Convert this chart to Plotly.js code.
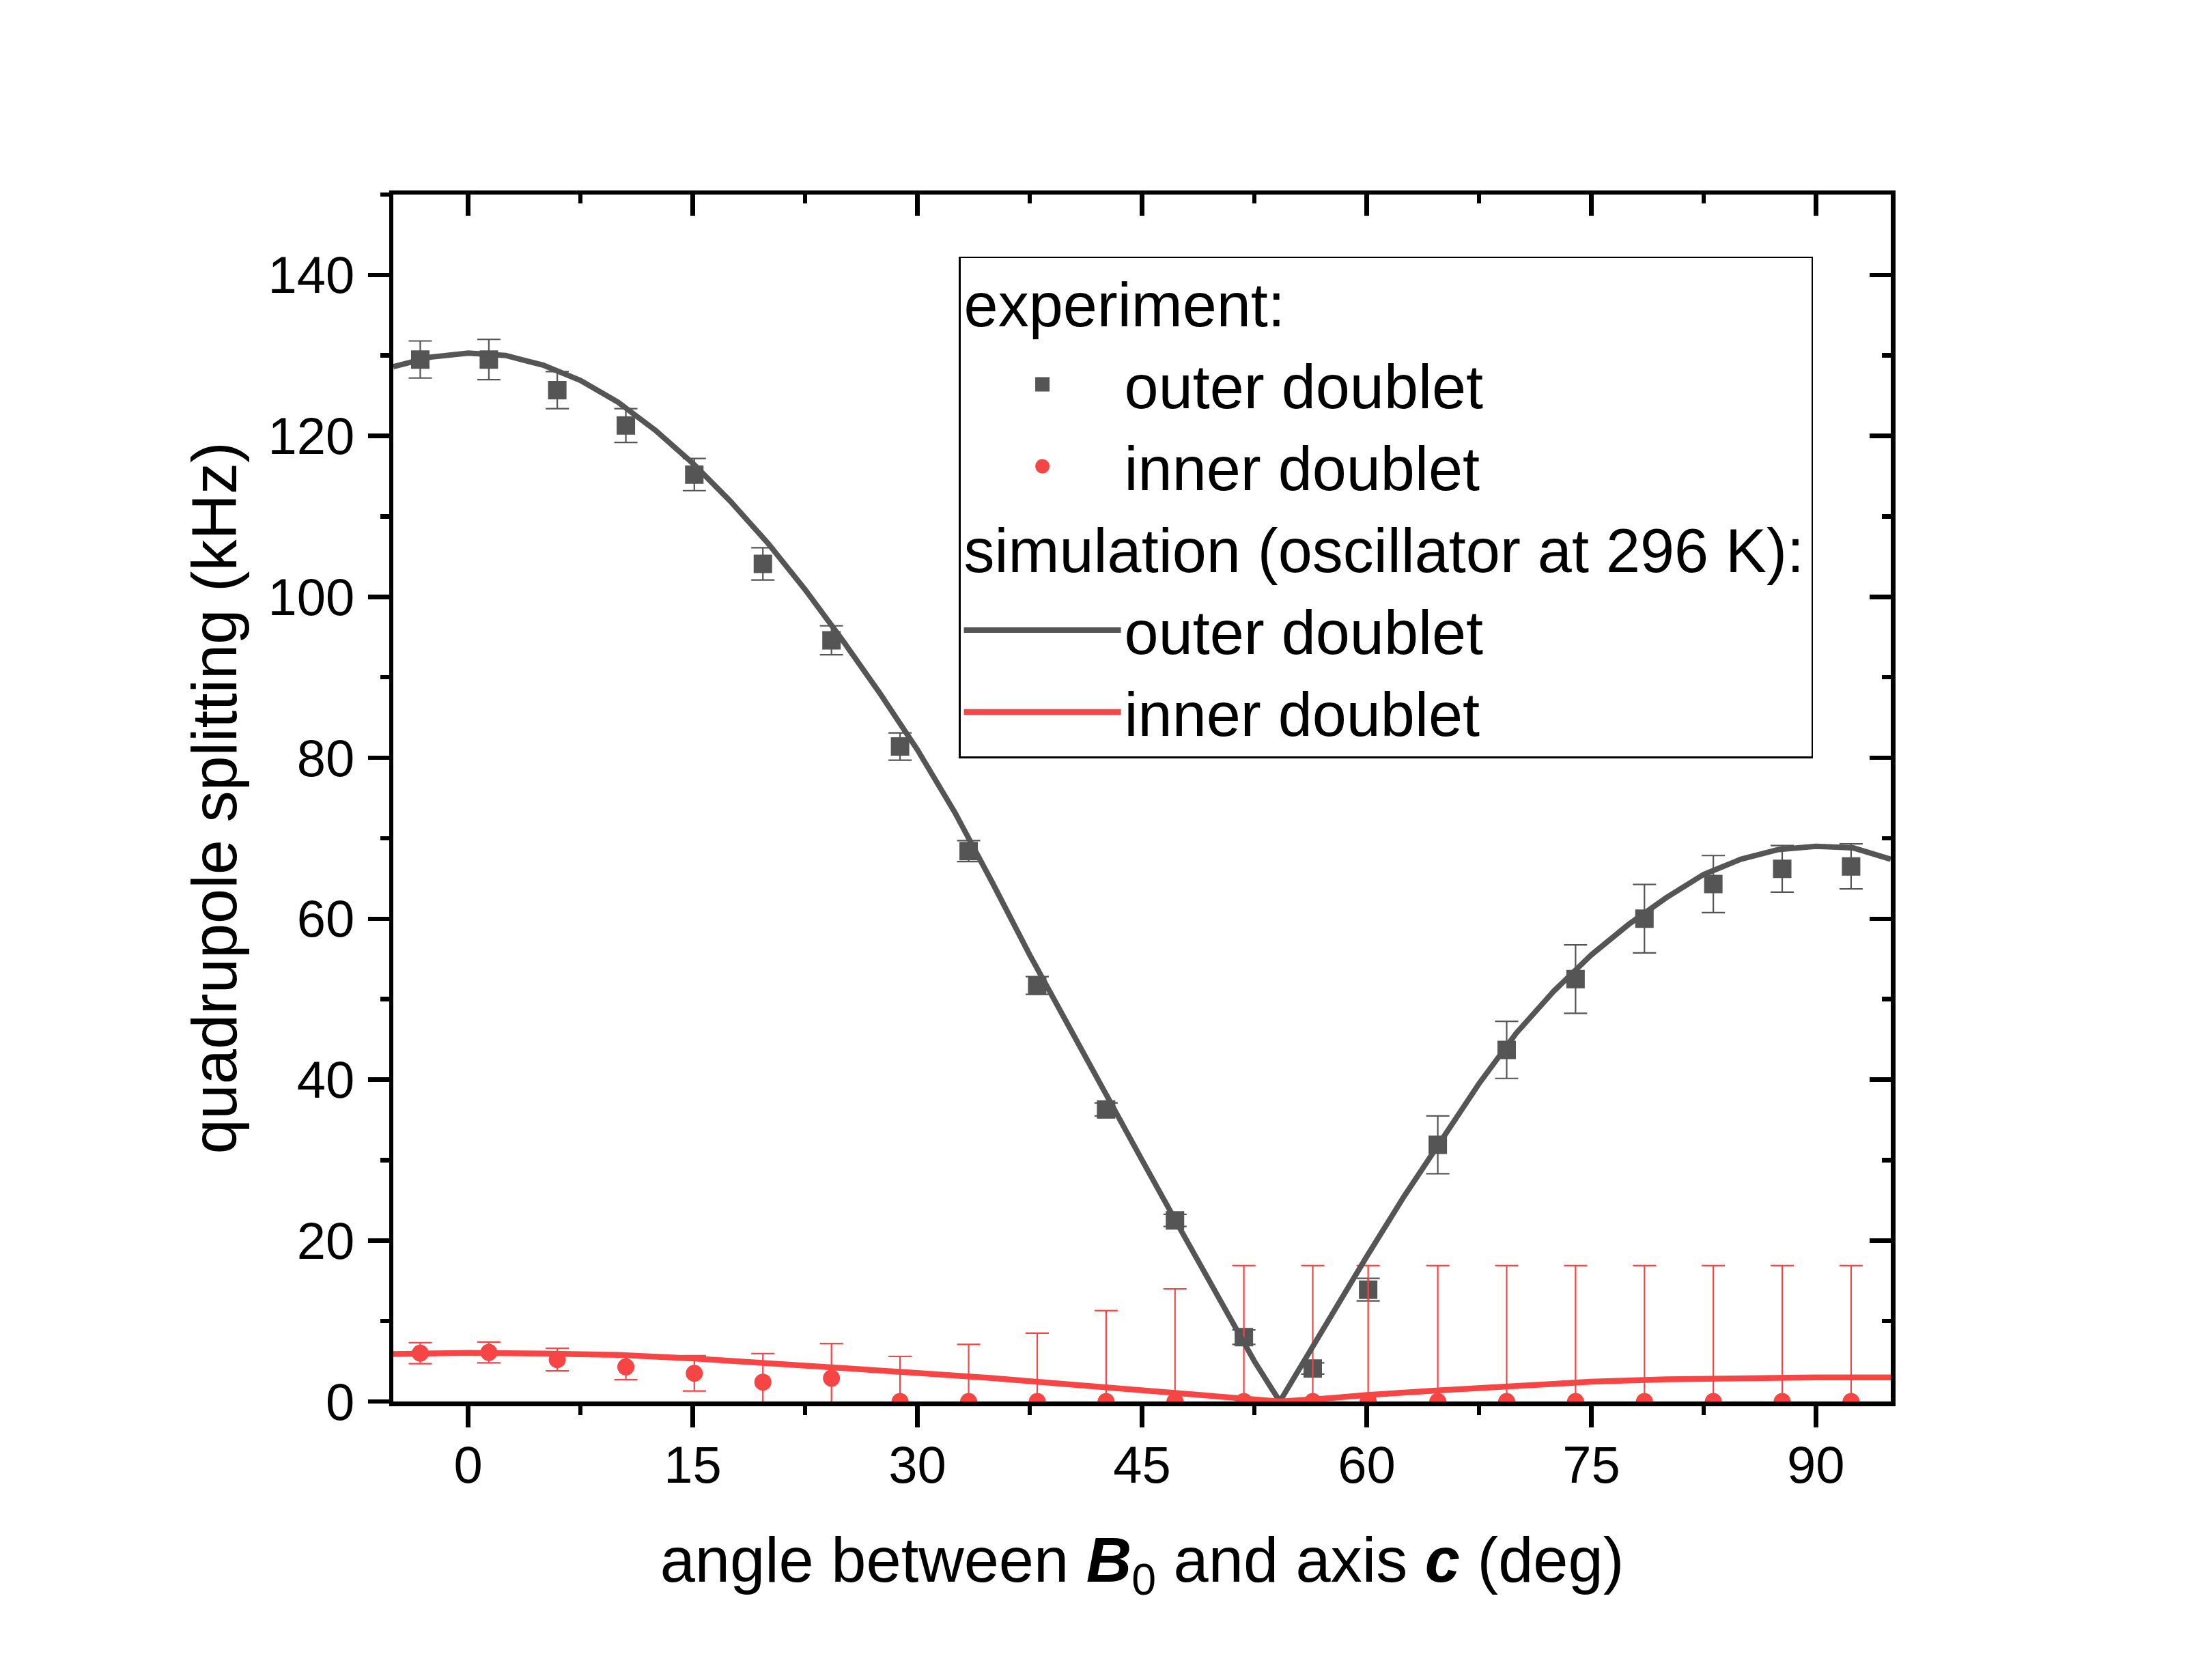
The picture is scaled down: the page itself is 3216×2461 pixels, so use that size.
<!DOCTYPE html>
<html>
<head>
<meta charset="utf-8">
<script src="https://cdn.plot.ly/plotly-3.0.1.min.js"></script>
<style>
html,body{margin:0;padding:0;background:#ffffff;}
#chart{width:3216px;height:2461px;}
</style>
</head>
<body>
<div id="chart"></div>
<script>
// ---- data ----
const angles = [-3.2, 1.38, 5.95, 10.53, 15.1, 19.68, 24.26, 28.84, 33.42, 38.0, 42.6,
                47.2, 51.8, 56.4, 60.1, 64.75, 69.35, 73.95, 78.55, 83.15, 87.75, 92.35];
const outerExp = [129.5, 129.5, 125.7, 121.3, 115.2, 104.1, 94.6, 81.4, 68.4, 51.7, 36.3,
                  22.5, 8.0, 4.1, 13.9, 31.9, 43.7, 52.5, 60.0, 64.3, 66.2, 66.5];
const outerErr = [2.3, 2.5, 2.3, 2.1, 2.0, 2.0, 1.8, 1.7, 1.3, 1.1, 0.8,
                  0.75, 0.9, 0.7, 1.4, 3.6, 3.55, 4.25, 4.25, 3.55, 2.9, 2.8];
const innerExp = [6.0, 6.1, 5.2, 4.3, 3.5, 2.4, 2.9, 0, 0, 0, 0,
                  0, 0, 0, 0, 0, 0, 0, 0, 0, 0, 0];
const innerErr = [1.3, 1.3, 1.4, 1.6, 2.2, 3.55, 4.3, 5.6, 7.1, 8.5, 11.3,
                  14.0, 16.9, 16.9, 16.9, 16.9, 16.9, 16.9, 16.9, 16.9, 16.9, 16.9];

const outerSimAngles = [-5, -2.5, 0, 2.5, 5, 7.5, 10, 12.5, 15, 17.5, 20, 22.5, 25, 27.5, 30,
                        32.5, 35, 37.5, 40, 42.5, 45, 47.5, 50, 52.5, 54.2, 55, 57.5, 60,
                        62.5, 65, 67.5, 70, 72.5, 75, 77.5, 80, 82.5, 85, 87.5, 90, 92.5, 95];
const outerSim = [128.6, 129.8, 130.3, 130.0, 128.8, 126.9, 124.2, 120.7, 116.6, 111.9, 106.7,
                  100.9, 94.6, 88.0, 81.0, 73.2, 64.5, 55.5, 47.0, 38.4, 30.0, 21.6, 13.2, 5.0,
                  0.0, 2.5, 10.2, 18.0, 25.5, 32.5, 39.5, 45.8, 51.0, 55.5, 59.3, 62.6, 65.5,
                  67.4, 68.6, 69.0, 68.8, 67.4];
const innerSimAngles = [-5, 0, 5, 10, 15, 20, 25, 30, 35, 40, 45, 50, 54.2,
                        57.5, 60, 65, 70, 75, 80, 85, 90, 95];
const innerSim = [5.9, 6.05, 5.95, 5.8, 5.35, 4.8, 4.2, 3.55, 2.9, 2.15, 1.4, 0.6, 0.0,
                  0.4, 0.8, 1.4, 1.95, 2.45, 2.75, 2.92, 3.0, 3.0];

const xTickVals = [0, 15, 30, 45, 60, 75, 90];
const yTickVals = [0, 20, 40, 60, 80, 100, 120, 140];

const seriesNames = ['outer doublet', 'inner doublet'];
const groupTitles = ['experiment:', 'simulation (oscillator at 296 K):'];

// ---- styles ----
const GREY = '#555555';
const RED = '#f54545';
const FONT = 'Liberation Sans, Arial, sans-serif';
const xRange = [-5, 95];
const yRange = [0, 150];
const LEGEND_FONT = 90;

const traces = [
  {
    type: 'scatter', mode: 'markers', name: seriesNames[0],
    x: angles, y: outerExp,
    legendgroup: 'exp', legendgrouptitle: {text: groupTitles[0], font: {family: FONT, size: LEGEND_FONT, color: '#000'}},
    marker: {symbol: 'square', size: 22, color: GREY, line: {color: GREY, width: 5}},
    error_y: {type: 'data', array: outerErr, visible: true, color: GREY, thickness: 2.2, width: 17}
  },
  {
    type: 'scatter', mode: 'markers', name: seriesNames[1],
    x: angles, y: innerExp,
    legendgroup: 'exp',
    marker: {symbol: 'circle', size: 20, color: RED, line: {color: RED, width: 5}},
    error_y: {type: 'data', array: innerErr, visible: true, color: RED, thickness: 2.2, width: 17}
  },
  {
    type: 'scatter', mode: 'lines', name: seriesNames[0],
    x: outerSimAngles, y: outerSim,
    legendgroup: 'sim', legendgrouptitle: {text: groupTitles[1], font: {family: FONT, size: LEGEND_FONT, color: '#000'}},
    line: {color: GREY, width: 8}
  },
  {
    type: 'scatter', mode: 'lines', name: seriesNames[1],
    x: innerSimAngles, y: innerSim,
    xaxis: 'x2', yaxis: 'y2',
    legendgroup: 'sim',
    line: {color: RED, width: 8.5}
  }
];

const axisCommon = {
  showline: true, linecolor: '#000', linewidth: 6.5,
  showgrid: false, zeroline: false,
  tickcolor: '#000', tickwidth: 6.5, ticklen: 31,
  tickfont: {family: FONT, size: 76, color: '#000'}
};
const minorOut = {ticks: 'outside', ticklen: 13, tickwidth: 6.5, tickcolor: '#000'};
const minorIn = {ticks: 'inside', ticklen: 13, tickwidth: 6.5, tickcolor: '#000'};

const layout = {
  width: 3216, height: 2461,
  paper_bgcolor: '#ffffff', plot_bgcolor: '#ffffff',
  margin: {l: 576, r: 447, t: 285, b: 408, pad: 0},
  showlegend: true,
  legend: {
    x: 0.3776, y: 0.9488, xanchor: 'left', yanchor: 'top',
    bgcolor: '#ffffff', bordercolor: '#000', borderwidth: 2.5,
    font: {family: FONT, size: LEGEND_FONT, color: '#000'},
    itemwidth: 230, tracegroupgap: 0, traceorder: 'grouped'
  },
  xaxis: Object.assign({}, axisCommon, {
    range: xRange, tickmode: 'array', tickvals: xTickVals, ticktext: xTickVals.map(String),
    ticks: 'outside', ticklabelstandoff: -10,
    minor: Object.assign({dtick: 7.5, tick0: 0}, minorOut),
    title: {text: 'angle between <b><i>B</i></b><sub>0</sub> and axis <b><i>c</i></b> (deg)',
            font: {family: FONT, size: 92, color: '#000'}, standoff: 68}
  }),
  yaxis: Object.assign({}, axisCommon, {
    range: yRange, tickmode: 'array', tickvals: yTickVals, ticktext: yTickVals.map(String),
    ticks: 'outside', ticklabelstandoff: 4,
    minor: Object.assign({dtick: 10, tick0: 0}, minorOut),
    title: {text: 'quadrupole splitting (kHz)', font: {family: FONT, size: 92, color: '#000'}, standoff: 18}
  }),
  xaxis2: Object.assign({}, axisCommon, {
    overlaying: 'x', side: 'top', anchor: 'y2', range: xRange,
    tickmode: 'array', tickvals: xTickVals, ticks: 'inside', showticklabels: false,
    minor: Object.assign({dtick: 7.5, tick0: 0}, minorIn)
  }),
  yaxis2: Object.assign({}, axisCommon, {
    overlaying: 'y', side: 'right', anchor: 'x2', range: yRange,
    tickmode: 'array', tickvals: yTickVals, ticks: 'inside', showticklabels: false,
    minor: Object.assign({dtick: 10, tick0: 0}, minorIn)
  })
};

Plotly.newPlot('chart', traces, layout, {displayModeBar: false, staticPlot: true});
</script>
</body>
</html>
